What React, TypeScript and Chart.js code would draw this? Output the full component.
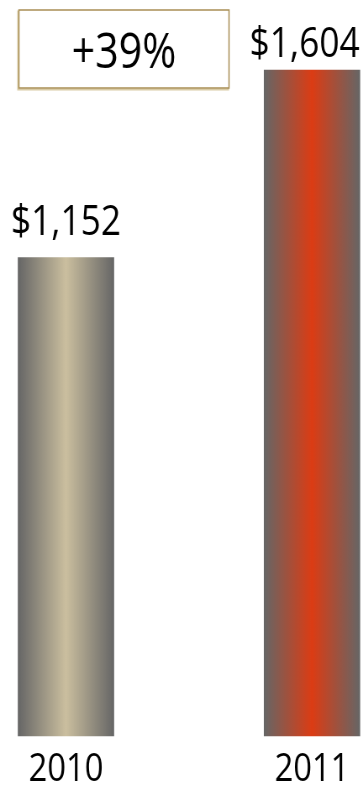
import React, { useEffect, useRef } from 'react';
import { Chart, registerables } from 'chart.js';

Chart.register(...registerables);

// Yearly totals, in dollars
const years = ['2010', '2011'];
const totals = [1152, 1604];

// Bar fills: grey edges blending into a coloured centre
const barCentreColours = ['#cbbf9f', '#dc3c14'];
const barEdgeColour = '#666666';

// The canvas is drawn wider than it is shown, giving the narrow lettering
const DRAW_W = 432;
const DRAW_H = 787;
const SHOW_W = 363;
const BAR_W = 114;
const FONT = '"Open Sans", "Noto Sans", sans-serif';
const WEIGHT = 500;

const annotate = {
  id: 'annotate',
  afterDatasetsDraw(chart: any) {
    const ctx = chart.ctx as CanvasRenderingContext2D;
    const meta = chart.getDatasetMeta(0);
    ctx.save();

    // value labels above the bars, kept inside the canvas
    ctx.font = `${WEIGHT} 42px ${FONT}`;
    ctx.fillStyle = '#000';
    ctx.textAlign = 'center';
    ctx.textBaseline = 'alphabetic';
    meta.data.forEach((bar: any, i: number) => {
      const text = '$' + totals[i].toLocaleString('en-US');
      const half = ctx.measureText(text).width / 2;
      const x = Math.min(bar.x, chart.width - 4 - half);
      const y = Math.max(bar.y - 23, 57);
      ctx.fillText(text, x, y);
    });

    // growth call-out box
    const growth = Math.round((totals[1] / totals[0] - 1) * 100);
    const left = meta.data[0].x - BAR_W / 2 + 1;
    const top = 10;
    const w = 250;
    const h = 78;
    ctx.lineWidth = 2;
    ctx.strokeStyle = '#d9cba5';
    ctx.strokeRect(left - 1, top + 1.5, w, h);
    ctx.fillStyle = '#ffffff';
    ctx.fillRect(left, top, w, h);
    ctx.lineWidth = 1.5;
    ctx.strokeStyle = '#a98f55';
    ctx.strokeRect(left, top, w, h);

    ctx.fillStyle = '#000';
    ctx.font = `${WEIGHT} 49px ${FONT}`;
    ctx.textAlign = 'center';
    ctx.textBaseline = 'alphabetic';
    ctx.fillText(`+${growth}%`, left + w / 2, top + 58);
    ctx.restore();
  },
};

export default function App() {
  const ref = useRef<HTMLCanvasElement>(null);

  useEffect(() => {
    document.body.style.margin = '0';
    document.body.style.overflow = 'hidden';
    const canvas = ref.current;
    if (!canvas) return;

    const chart = new Chart(canvas, {
      type: 'bar',
      data: {
        labels: years,
        datasets: [
          {
            data: totals,
            barThickness: BAR_W,
            clip: false as any,
            borderWidth: 0,
            backgroundColor: (c: any) => {
              const xs = c.chart.scales?.x;
              if (!xs || c.dataIndex === undefined) return barEdgeColour;
              const cx = xs.getPixelForValue(c.dataIndex);
              if (!Number.isFinite(cx)) return barEdgeColour;
              const g = c.chart.ctx.createLinearGradient(cx - BAR_W / 2, 0, cx + BAR_W / 2, 0);
              g.addColorStop(0, barEdgeColour);
              g.addColorStop(0.5, barCentreColours[c.dataIndex]);
              g.addColorStop(1, barEdgeColour);
              return g;
            },
          },
        ],
      },
      options: {
        responsive: false,
        animation: false,
        devicePixelRatio: 1,
        layout: { padding: { left: 78.5, right: 60.7, top: 70, bottom: -16 } },
        plugins: {
          legend: { display: false },
          tooltip: { enabled: false },
        },
        scales: {
          x: {
            offset: false,
            grid: { display: false, drawTicks: false },
            border: { display: false },
            ticks: {
              color: '#000',
              padding: 16,
              autoSkip: false,
              maxRotation: 0,
              font: { family: FONT, size: 39, weight: WEIGHT as any, lineHeight: 0.9 },
            },
          },
          y: {
            display: false,
            min: 0,
            max: Math.max(...totals),
          },
        },
      },
      plugins: [annotate],
    });

    return () => chart.destroy();
  }, []);

  return (
    <canvas
      ref={ref}
      width={DRAW_W}
      height={DRAW_H}
      style={{ display: 'block', width: `${SHOW_W}px`, height: `${DRAW_H}px` }}
    />
  );
}
